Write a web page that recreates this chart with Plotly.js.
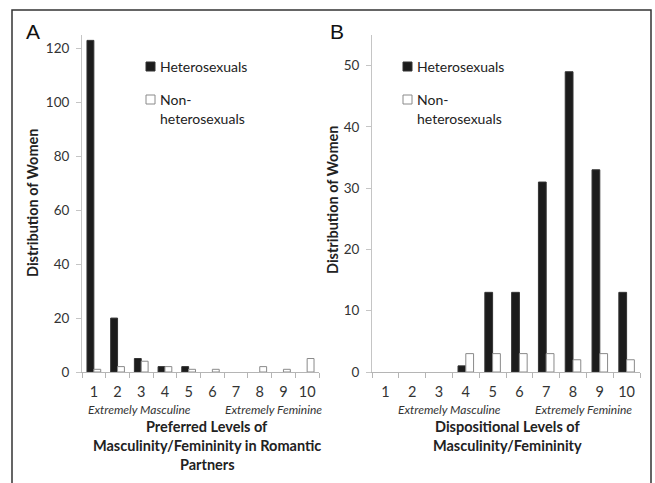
<!DOCTYPE html>
<html>
<head>
<meta charset="utf-8">
<script src="https://cdn.plot.ly/plotly-3.0.1.min.js"></script>
<style>
  html, body { margin: 0; padding: 0; background: #fff; }
  #chart { width: 655px; height: 483px; }
</style>
</head>
<body>
<div id="chart"></div>
<script>
// ---- data ----
const levels = ["1","2","3","4","5","6","7","8","9","10"];
const prefHetero    = [123, 20, 5, 2, 2, 0, 0, 0, 0, 0];
const prefNonHetero = [1, 2, 4, 2, 1, 1, 0, 2, 1, 5];
const dispHetero    = [0, 0, 0, 1, 13, 13, 31, 49, 33, 13];
const dispNonHetero = [0, 0, 0, 3, 3, 3, 3, 2, 3, 2];
const seriesNames = ["Heterosexuals", "Non-heterosexuals"];

const W = 655, H = 483;
const px = v => v / W;
const py = v => 1 - v / H;

const FONT = "Lato, 'Open Sans', sans-serif";
// zero-height bars get no outline (as in the original, where they are invisible)
const outline = vals => vals.map(v => v === 0 ? 0 : 1);
const hetero = vals => ({color: "#1c1c1c", line: {color: "#333", width: outline(vals)}});
const nonHet = vals => ({color: "#ffffff", line: {color: "#8a8a8a", width: outline(vals)}});

const traces = [
  {type: "bar", x: levels, y: prefHetero, name: seriesNames[0], marker: hetero(prefHetero), xaxis: "x", yaxis: "y", showlegend: false},
  {type: "bar", x: levels, y: prefNonHetero, name: seriesNames[1], marker: nonHet(prefNonHetero), xaxis: "x", yaxis: "y", showlegend: false},
  {type: "bar", x: levels, y: dispHetero, name: seriesNames[0], marker: hetero(dispHetero), xaxis: "x2", yaxis: "y2", showlegend: false},
  {type: "bar", x: levels, y: dispNonHetero, name: seriesNames[1], marker: nonHet(dispNonHetero), xaxis: "x2", yaxis: "y2", showlegend: false}
];

const xCommon = {
  type: "category", tickangle: 0,
  showline: true, linecolor: "#b5b5b5", linewidth: 1,
  ticks: "outside", tickson: "boundaries", ticklen: 5, tickcolor: "#b5b5b5",
  ticklabelstandoff: 7,
  tickfont: {family: FONT, size: 14.5, color: "#333"},
  showgrid: false, zeroline: false, fixedrange: true
};
const yCommon = {
  showline: true, linecolor: "#c5c5c5", linewidth: 1,
  ticks: "outside", ticklen: 5, tickcolor: "#c5c5c5",
  ticklabelstandoff: 4,
  tickfont: {family: FONT, size: 13.5, color: "#333"},
  showgrid: false, zeroline: false, fixedrange: true
};

const yDom = [py(372), py(35)];

const annotations = [];
function ann(text, x, y, opts) {
  annotations.push(Object.assign({
    text: text, x: px(x), y: py(y), xref: "paper", yref: "paper",
    showarrow: false, xanchor: "center", yanchor: "middle",
    font: {family: FONT, size: 14, color: "#222"}
  }, opts || {}));
}
// panel letters
ann("A", 33, 32, {font: {family: "Liberation Sans, Arial, sans-serif", size: 21, color: "#111"}});
ann("B", 337, 32, {font: {family: "Liberation Sans, Arial, sans-serif", size: 21, color: "#111"}});
// y titles
ann("<b>Distribution of Women</b>", 32, 203, {textangle: -90, font: {family: FONT, size: 14.5, color: "#222"}});
ann("<b>Distribution of Women</b>", 333, 200, {textangle: -90, font: {family: FONT, size: 14.5, color: "#222"}});
// italic endpoint labels
const italicFont = {family: FONT, size: 12, color: "#333"};
ann("<i>Extremely Masculine</i>", 139, 409, {font: italicFont});
ann("<i>Extremely Feminine</i>", 273, 409, {font: italicFont});
ann("<i>Extremely Masculine</i>", 449, 409, {font: italicFont});
ann("<i>Extremely Feminine</i>", 583, 409, {font: italicFont});
// x titles
const xtFont = {family: FONT, size: 14.5, color: "#222"};
ann("<b>Preferred Levels of</b>", 207, 426, {font: xtFont});
ann("<b>Masculinity/Femininity in Romantic</b>", 207, 445, {font: xtFont});
ann("<b>Partners</b>", 207, 464, {font: xtFont});
ann("<b>Dispositional Levels of</b>", 507, 426, {font: xtFont});
ann("<b>Masculinity/Femininity</b>", 507, 445, {font: xtFont});
// legends (manual, as in the original figure)
const legFont = {family: FONT, size: 14, color: "#222"};
function legend(xSq, yTop) {
  ann(seriesNames[0], xSq + 12, yTop, {xanchor: "left", font: legFont});
  ann("Non-", xSq + 12, yTop + 33, {xanchor: "left", font: legFont});
  ann("heterosexuals", xSq + 12, yTop + 53, {xanchor: "left", font: legFont});
}
legend(146, 66);
legend(403, 66);

const shapes = [
  // outer frame
  {type: "path", xref: "paper", yref: "paper",
   path: `M ${px(12)} ${py(490)} L ${px(12)} ${py(10)} L ${px(651)} ${py(10)} L ${px(651)} ${py(490)}`,
   line: {color: "#333", width: 1.5}},
  // legend swatches
  {type: "rect", xref: "paper", yref: "paper", x0: px(146), x1: px(155), y0: py(71), y1: py(62),
   fillcolor: "#1c1c1c", line: {color: "#333", width: 1}},
  {type: "rect", xref: "paper", yref: "paper", x0: px(146), x1: px(155), y0: py(104), y1: py(95),
   fillcolor: "#fff", line: {color: "#8a8a8a", width: 1}},
  {type: "rect", xref: "paper", yref: "paper", x0: px(403), x1: px(412), y0: py(71), y1: py(62),
   fillcolor: "#1c1c1c", line: {color: "#333", width: 1}},
  {type: "rect", xref: "paper", yref: "paper", x0: px(403), x1: px(412), y0: py(104), y1: py(95),
   fillcolor: "#fff", line: {color: "#8a8a8a", width: 1}}
];

const layout = {
  width: W, height: H,
  margin: {l: 0, r: 0, t: 0, b: 0, pad: 0},
  paper_bgcolor: "#fff", plot_bgcolor: "#fff",
  barmode: "group", bargap: 0.42, bargroupgap: 0,
  showlegend: false,
  xaxis: Object.assign({}, xCommon, {domain: [px(82), px(319)], anchor: "y"}),
  yaxis: Object.assign({}, yCommon, {domain: yDom, range: [0, 125], tickvals: [0,20,40,60,80,100,120], anchor: "x"}),
  xaxis2: Object.assign({}, xCommon, {domain: [px(372), px(640)], anchor: "y2"}),
  yaxis2: Object.assign({}, yCommon, {domain: yDom, range: [0, 55], tickvals: [0,10,20,30,40,50], anchor: "x2"}),
  annotations: annotations,
  shapes: shapes,
  font: {family: FONT}
};

Plotly.newPlot("chart", traces, layout, {displayModeBar: false, staticPlot: true});
</script>
</body>
</html>
